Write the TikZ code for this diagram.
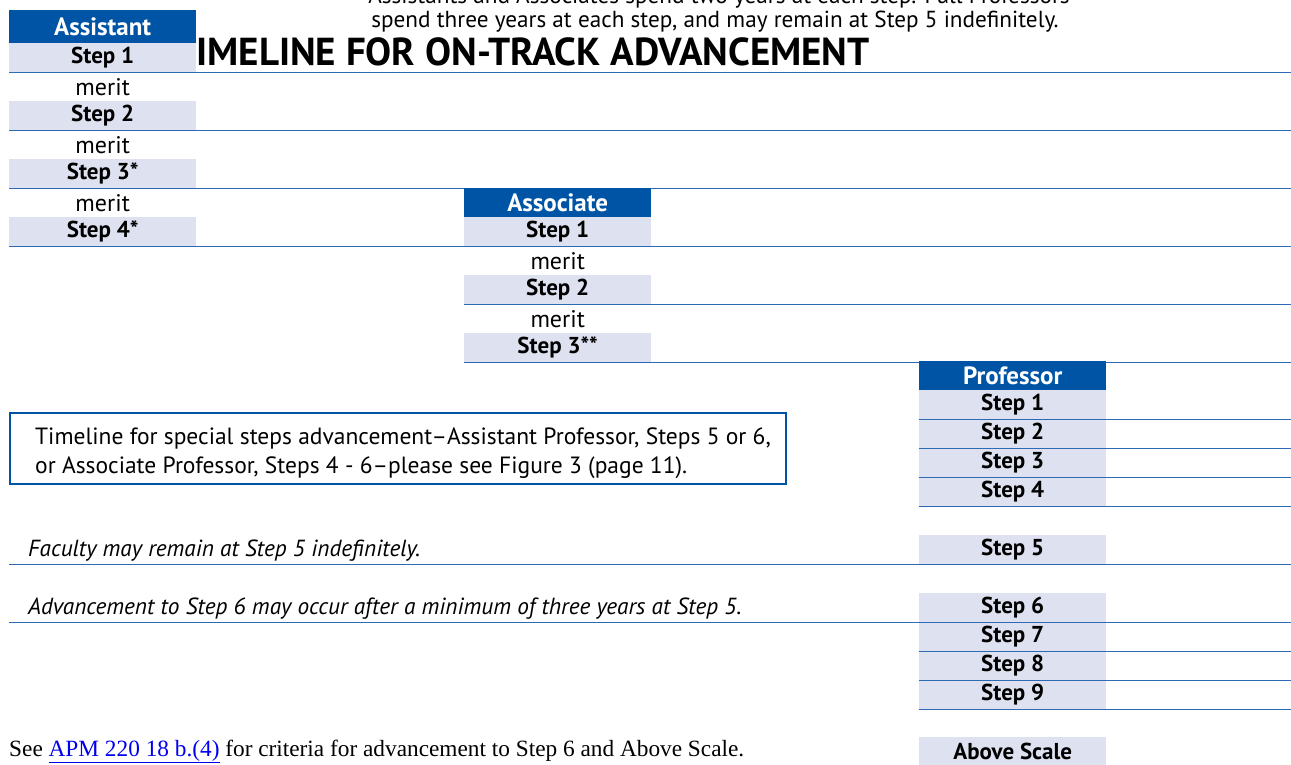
\documentclass[tikz,border=0pt]{standalone}
\usepackage{fontspec}
\setmainfont{PT Sans}
\newfontfamily\serifft{Liberation Serif}
\usetikzlibrary{calc}

\definecolor{hdblue}{RGB}{0,84,165}
\definecolor{stepgray}{RGB}{222,225,240}
\definecolor{ruleblue}{RGB}{45,105,180}
\definecolor{linkblue}{RGB}{0,0,238}

\tikzset{
  colhead/.style={fill=hdblue, text=white, font=\bfseries\fontsize{25}{25}\selectfont,
    minimum width=187pt, minimum height=29pt, inner sep=0pt, anchor=north west},
  stepbox/.style={fill=stepgray, font=\bfseries\fontsize{23}{23}\selectfont,
    minimum width=187pt, minimum height=29pt, inner sep=0pt, anchor=north west},
  meritrow/.style={font=\fontsize{24}{24}\selectfont,
    minimum width=187pt, minimum height=29pt, inner sep=0pt, anchor=north west},
  rowline/.style={ruleblue, line width=1.8pt},
  note/.style={font=\itshape\fontsize{23.3}{23.3}\selectfont, anchor=base west, inner sep=0pt}
}

\begin{document}
\begin{tikzpicture}[x=1pt, y=-1pt]
\useasboundingbox (0,0) rectangle (1291,764);

% 左右边界
\coordinate (L) at (9,0);
\coordinate (R) at (1291,0);

% 顶部说明与标题
\node[anchor=base, inner sep=0pt, font=\fontsize{23.2}{23.2}\selectfont] (top1) at (719,3) {Assistants and Associates spend two years at each step. Full Professors};
\node[anchor=base, inner sep=0pt, font=\fontsize{23.2}{23.2}\selectfont] (top2) at (715,27) {spend three years at each step, and may remain at Step 5 indefinitely.};
\node[anchor=base west, inner sep=0pt, font=\bfseries\fontsize{39}{39}\selectfont] (title) at (174,65) {TIMELINE FOR ON-TRACK ADVANCEMENT};

% Assistant 列
\node[stepbox] (as1) at (9,43) {Step 1};
\node[meritrow] (am1) at (9,72) {merit};
\node[stepbox] (as2) at (9,101) {Step 2};
\node[meritrow] (am2) at (9,130) {merit};
\node[stepbox] (as3) at (9,159) {Step 3*};
\node[meritrow] (am3) at (9,188) {merit};
\node[stepbox] (as4) at (9,217) {Step 4*};

% Associate 列
\node[stepbox] (cs1) at (464,217) {Step 1};
\node[meritrow] (cm1) at (464,246) {merit};
\node[stepbox] (cs2) at (464,275) {Step 2};
\node[meritrow] (cm2) at (464,304) {merit};
\node[stepbox] (cs3) at (464,333) {Step 3**};

% Professor 列
\node[stepbox] (ps1) at (919,390) {Step 1};
\node[stepbox] (ps2) at (919,419) {Step 2};
\node[stepbox] (ps3) at (919,448) {Step 3};
\node[stepbox] (ps4) at (919,477) {Step 4};
\node[stepbox] (ps5) at (919,535) {Step 5};
\node[stepbox] (ps6) at (919,593) {Step 6};
\node[stepbox] (ps7) at (919,622) {Step 7};
\node[stepbox] (ps8) at (919,651) {Step 8};
\node[stepbox] (ps9) at (919,680) {Step 9};
\node[stepbox] (pabove) at (919,737) {Above Scale};

% 横线
\draw[rowline] (as1.south -| L) -- (as1.south -| R);
\draw[rowline] (as2.south -| L) -- (as2.south -| R);
\draw[rowline] (as3.south -| L) -- (as3.south -| R);
\draw[rowline] (as4.south -| L) -- (as4.south -| R);
\draw[rowline] (cs2.south west) -- (cs2.south -| R);
\draw[rowline] (cs3.south west) -- (cs3.south -| R);
\draw[rowline] (ps1.south west) -- (ps1.south -| R);
\draw[rowline] (ps2.south west) -- (ps2.south -| R);
\draw[rowline] (ps3.south west) -- (ps3.south -| R);
\draw[rowline] (ps4.south west) -- (ps4.south -| R);
\draw[rowline] (ps5.south -| L) -- (ps5.south -| R);
\draw[rowline] (ps6.south -| L) -- (ps6.south -| R);
\draw[rowline] (ps7.south west) -- (ps7.south -| R);
\draw[rowline] (ps8.south west) -- (ps8.south -| R);
\draw[rowline] (ps9.south west) -- (ps9.south -| R);

% 列标题(压在横线上)
\node[colhead, minimum height=33pt] (ash) at (9,10) {Assistant};
\node[colhead] (csh) at (464,188) {Associate};
\node[colhead] (psh) at (919,361) {Professor};

% 特殊晋升说明框
\node[draw=hdblue, line width=2pt, anchor=north west, minimum width=776pt, minimum height=71pt] (special) at (9,412) {};
\node[anchor=west, inner sep=0pt, align=left, font=\fontsize{23.5}{29}\selectfont]
  (specialtxt) at ($(special.west)+(26,5)$) {Timeline for special steps advancement–Assistant Professor, Steps 5 or 6,\\
  or Associate Professor, Steps 4 - 6–please see Figure 3 (page 11).};

% 斜体注释
\node[note] (stay5) at (28,556) {Faculty may remain at Step 5 indefinitely.};
\node[note] (adv6) at (28,614) {Advancement to Step 6 may occur after a minimum of three years at Step 5.};

% 底部参考
\node[anchor=base west, inner sep=0pt, font=\serifft\fontsize{23.3}{23.3}\selectfont] (apm) at (9,756)
  {See \textcolor{linkblue}{\underline{APM 220 18 b.(4)}} for criteria for advancement to Step 6 and Above Scale.};

\end{tikzpicture}
\end{document}
